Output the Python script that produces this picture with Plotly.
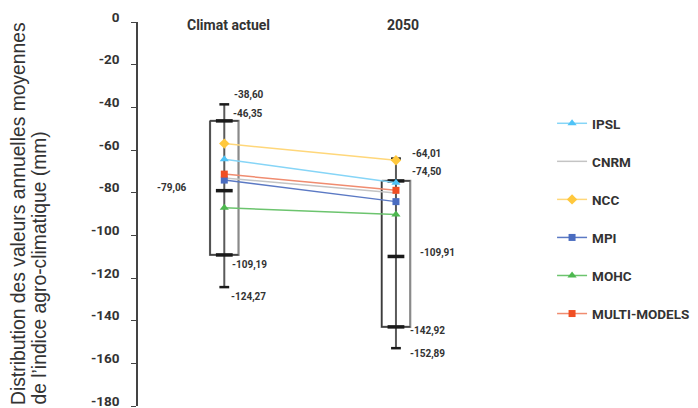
import plotly.graph_objects as go

# ---- data ----
periods = ["Climat actuel", "2050"]
whisker_high = [-38.60, -64.01]
box_top = [-46.35, -74.50]
median = [-79.06, -109.91]
box_bottom = [-109.19, -142.92]
whisker_low = [-124.27, -152.89]

models = ["IPSL", "CNRM", "NCC", "MPI", "MOHC", "MULTI-MODELS"]
ipsl = [-64.3, -75.4]
cnrm = [-73.1, -80.2]
ncc = [-57.0, -64.8]
mpi = [-74.1, -84.2]
mohc = [-87.1, -90.2]
multi = [-71.3, -78.9]

yticks = [0, -20, -40, -60, -80, -100, -120, -140, -160, -180]
ytitle_lines = ["Distribution des valeurs annuelles moyennes",
                "de l\u2019indice agro-climatique (mm)"]

# ---- styles ----
# (the page body has an 8px default margin; figure is sized to fit the window)
xpos = [0, 1]
half_w = 0.083
model_values = [ipsl, cnrm, ncc, mpi, mohc, multi]
model_colors = ["#4FC3F7", "#BDBDBD", "#FFC83D", "#4A6CC0", "#4DB84F", "#F04E23"]
model_line_colors = ["#86D5F7", "#C4C4C4", "#FFD77A", "#5B79C4", "#6CC46E", "#F08C70"]
model_symbols = ["triangle-up", None, "diamond", "square", "triangle-up", "square"]
model_sizes = [8, 0, 8, 7, 8, 7]
cat_shift = [(4, -3), (7, -3)]

fmt = lambda v: f"{v:.2f}".replace(".", ",")
FONT = "Roboto, Arial, sans-serif"
TFONT = "Liberation Sans, Arial, sans-serif"

fig = go.Figure()

for i, x in enumerate(xpos):
    fig.add_trace(go.Scatter(
        x=[x - half_w, x + half_w, x + half_w, x - half_w, x - half_w],
        y=[box_top[i], box_top[i], box_bottom[i], box_bottom[i], box_top[i]],
        mode="lines", line=dict(color="#8A8A8A", width=2.2), showlegend=False, hoverinfo="skip"))
    fig.add_trace(go.Scatter(
        x=[x + half_w, x - half_w, x - half_w, x + half_w],
        y=[box_top[i], box_top[i], box_bottom[i], box_bottom[i]],
        mode="lines", line=dict(color="#333333", width=1.2), showlegend=False, hoverinfo="skip"))
    fig.add_trace(go.Scatter(
        x=[x, x], y=[whisker_low[i], whisker_high[i]],
        mode="lines", line=dict(color="#5A5A5A", width=2), showlegend=False, hoverinfo="skip"))
    fig.add_trace(go.Scatter(
        x=[x, x], y=[whisker_low[i], whisker_high[i]], mode="markers",
        marker=dict(symbol="line-ew", size=7, line=dict(color="#1a1a1a", width=2.5)),
        showlegend=False, hoverinfo="skip"))
    fig.add_trace(go.Scatter(
        x=[x, x, x], y=[box_top[i], median[i], box_bottom[i]], mode="markers",
        marker=dict(symbol="line-ew", size=12, line=dict(color="#1a1a1a", width=3.5)),
        showlegend=False, hoverinfo="skip"))

for name, vals, c, lc, sym, sz in zip(models, model_values, model_colors,
                                       model_line_colors, model_symbols, model_sizes):
    if sym is None:
        fig.add_trace(go.Scatter(x=xpos, y=vals, mode="lines", name=name, legendgroup=name,
                                 line=dict(color=lc, width=1.5)))
    else:
        fig.add_trace(go.Scatter(x=xpos, y=vals, mode="lines+markers", name=name, legendgroup=name,
                                 line=dict(color=lc, width=1.5),
                                 marker=dict(symbol=sym, size=sz, color=c)))

label_sets = [whisker_high, box_top, median, box_bottom, whisker_low]
offsets = [
    [(8, 9, "left"), (7, 6.5, "left"), (-35, 3, "right"), (5.5, -10.5, "left"), (4.5, -10, "left")],
    [(14, 5, "left"), (14.5, 8.5, "left"), (22, 3, "left"), (12, -4.5, "left"), (12, -5.5, "left")],
]
for i, x in enumerate(xpos):
    for k, arr in enumerate(label_sets):
        dx, dy, anc = offsets[i][k]
        fig.add_annotation(x=x, y=arr[i], text=fmt(arr[i]), showarrow=False,
                           xanchor=anc, yanchor="middle", xshift=dx, yshift=dy,
                           font=dict(family=FONT, size=10, color="#333333", weight="bold"))

for i, x in enumerate(xpos):
    fig.add_annotation(x=x, y=0, text=periods[i], showarrow=False,
                       xanchor="center", yanchor="middle",
                       xshift=cat_shift[i][0], yshift=cat_shift[i][1],
                       font=dict(family=FONT, size=14, color="#333333", weight="bold"))

for j, line in enumerate(ytitle_lines):
    fig.add_annotation(xref="paper", yref="paper", x=0, y=0, text=line, showarrow=False,
                       textangle=-90, xanchor="center", yanchor="bottom",
                       xshift=-(130 - 10.5 - 20.5 * j), yshift=-1,
                       font=dict(family=TFONT, size=19.3, color="#333333"))

fig.update_layout(
    width=690, height=400,
    margin=dict(l=130, r=158, t=14, b=2, autoexpand=False),
    paper_bgcolor="white", plot_bgcolor="white",
    font=dict(family=FONT, color="#333333"),
    legend=dict(x=1.03, y=0.776, xanchor="left", yanchor="top",
                font=dict(family=FONT, size=13.5, color="#333333", weight="bold"),
                tracegroupgap=17.5, bgcolor="rgba(0,0,0,0)"),
    xaxis=dict(range=[-0.5026, 1.839], showticklabels=False, ticks="", showline=False,
               showgrid=False, zeroline=False, automargin=False),
    yaxis=dict(range=[-180, 0], tickvals=yticks, ticktext=[str(v) for v in yticks],
               showline=True, linecolor="#444444", linewidth=1.5, ticks="outside",
               ticklen=5, tickcolor="#444444", showgrid=False, zeroline=False,
               automargin=False, ticklabeloverflow="allow",
               ticklabelstandoff=9, ticklabelshift=-5,
               tickfont=dict(family=FONT, size=13.5, color="#333333", weight="bold")),
)

fig.write_html("out.html")
